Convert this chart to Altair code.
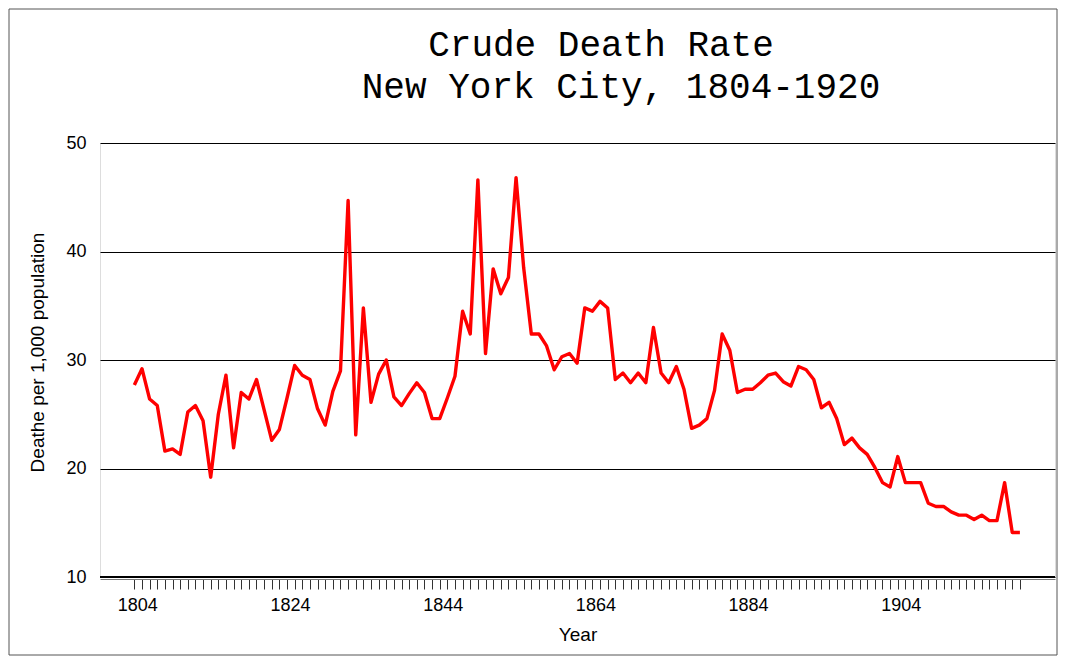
import altair as alt
import pandas as pd

years = list(range(1804, 1921))
rates = [
    27.7, 29.2, 26.4, 25.8, 21.6, 21.8, 21.3, 25.2, 25.8, 24.4,   # 1804-1813
    19.2, 25.0, 28.6, 21.9, 27.0, 26.4, 28.2, 25.4, 22.6, 23.6,   # 1814-1823
    26.5, 29.5, 28.6, 28.2, 25.5, 24.0, 27.1, 29.0, 44.7, 23.1,   # 1824-1833
    34.8, 26.1, 28.7, 30.0, 26.6, 25.8, 26.9, 27.9, 27.0, 24.6,   # 1834-1843
    24.6, 26.5, 28.5, 34.5, 32.4, 46.6, 30.6, 38.4, 36.1, 37.6,   # 1844-1853
    46.8, 38.5, 32.4, 32.4, 31.3, 29.1, 30.3, 30.6, 29.7, 34.8,   # 1854-1863
    34.5, 35.4, 34.8, 28.2, 28.8, 27.9, 28.8, 27.9, 33.0, 28.8,   # 1864-1873
    27.9, 29.4, 27.3, 23.7, 24.0, 24.6, 27.2, 32.4, 30.9, 27.0,   # 1874-1883
    27.3, 27.3, 27.9, 28.6, 28.8, 28.0, 27.6, 29.4, 29.1, 28.2,   # 1884-1893
    25.6, 26.1, 24.6, 22.2, 22.8, 21.9, 21.3, 20.1, 18.7, 18.3,   # 1894-1903
    21.1, 18.7, 18.7, 18.7, 16.8, 16.5, 16.5, 16.0, 15.7, 15.7,   # 1904-1913
    15.3, 15.7, 15.2, 15.2, 18.7, 14.1, 14.1,                     # 1914-1920
]
y_ticks = [10, 20, 30, 40, 50]
title_line1 = "Crude Death Rate"
title_line2 = "New York City, 1804-1920"

df = pd.DataFrame({"Year": years[:len(rates)], "Rate": rates})

W, H = 955, 434

x_scale = alt.Scale(domain=[1799.5, 1924.6], nice=False, zero=False)
y_scale = alt.Scale(domain=[10, 50], nice=False, zero=False)

line = alt.Chart(df).mark_line(color="#ff0000", strokeWidth=3.4, strokeJoin="round").encode(
    x=alt.X("Year:Q", scale=x_scale,
            axis=alt.Axis(values=years, title="Year", grid=False,
                          labelExpr="(datum.value - 1804) % 20 == 0 ? datum.value : ''",
                          labelOverlap=False, labelFlush=False, labelOffset=3,
                          tickSize=10, tickColor="#333", domainColor="#777",
                          offset=2, labelFontSize=18, labelPadding=7,
                          labelFont="Liberation Sans", labelColor="#000",
                          titleFont="Liberation Sans", titleFontSize=19,
                          titleFontWeight="normal", titleColor="#000",
                          titlePadding=11)),
    y=alt.Y("Rate:Q", scale=y_scale,
            axis=alt.Axis(values=y_ticks, title="Deathe per 1,000 population",
                          grid=True, gridColor="#000", gridOpacity=1, gridWidth=1,
                          ticks=False, domain=False,
                          labelFontSize=18, labelPadding=14,
                          labelFont="Liberation Sans", labelColor="#000",
                          titleFont="Liberation Sans", titleFontSize=19,
                          titleFontWeight="normal", titleColor="#000",
                          titleX=-63, titleY=209, titleAngle=-90,
                          titleBaseline="middle", titleAlign="center")),
)

one = pd.DataFrame({"a": [0]})
bottom = alt.Chart(one).mark_rule(color="#000", strokeWidth=2).encode(
    x=alt.value(0), x2=alt.value(W), y=alt.value(H)
)
border = alt.Chart(one).mark_rect(fill=None, stroke="#555", strokeWidth=1).encode(
    x=alt.value(-91), x2=alt.value(W + 2), y=alt.value(-134), y2=alt.value(H + 78)
)
t1 = alt.Chart(one).mark_text(font="Liberation Mono", fontSize=36, color="#000",
                              align="center", baseline="alphabetic").encode(
    x=alt.value(501), y=alt.value(-87), text=alt.value(title_line1)
)
t2 = alt.Chart(one).mark_text(font="Liberation Mono", fontSize=36, color="#000",
                              align="center", baseline="alphabetic").encode(
    x=alt.value(521), y=alt.value(-45), text=alt.value(title_line2)
)

chart = alt.layer(border, line, bottom, t1, t2).properties(
    width=W, height=H,
    padding={"left": 92, "top": 135, "right": 3, "bottom": 79},
    autosize=alt.AutoSizeParams(type="none"),
).configure_view(stroke="#000", strokeWidth=1).configure(background="white")

chart.save("out.html", embed_options={"renderer": "svg", "actions": False})
